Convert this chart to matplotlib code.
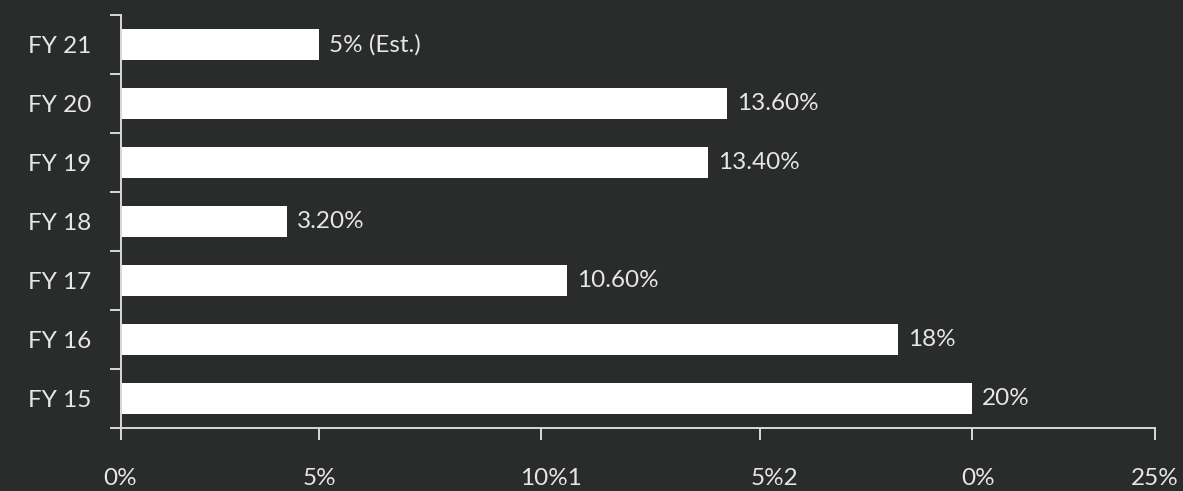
"""Horizontal bar chart: yearly growth, FY 15 to FY 21, dark theme."""

import matplotlib

matplotlib.use("Agg")
import matplotlib.pyplot as plt
import matplotlib.transforms as mtransforms
import numpy as np

BG = "#2a2b2b"
INK = "#e6e6e6"
AXIS = "#d9d9d9"

years = ["FY 15", "FY 16", "FY 17", "FY 18", "FY 19", "FY 20", "FY 21"]
# bar lengths as drawn in the picture (axis units, 0..25)
lengths = [20.58, 18.79, 10.80, 4.02, 14.20, 14.66, 4.80]
value_labels = ["20%", "18%", "10.60%", "3.20%", "13.40%", "13.60%", "5% (Est.)"]
# x ticks sit where the picture has them
xtick_pos = [0, 4.80, 10.16, 15.46, 20.58, 25]
xtick_labels = ["0%", "5%", "10%1", "5%2", "0%", "25%"]

FS = 17.5


def main() -> None:
    plt.rcParams["font.family"] = ["Lato", "DejaVu Sans"]
    fig = plt.figure(figsize=(11.83, 4.91), dpi=100, facecolor=BG)
    ax = fig.add_axes((0.1019, 0.1283, 0.8744, 0.8412), facecolor=BG)

    y = np.arange(len(years))
    ax.barh(y, lengths, height=0.51, color="white", edgecolor="none")
    for yi, v, lab in zip(y, lengths, value_labels):
        ax.annotate(lab, (v, yi), xytext=(7, 0), textcoords="offset points",
                    va="center", ha="left", color=INK, fontsize=FS)

    ax.set_xlim(0, 25)
    ax.set_ylim(-0.5, len(years) - 0.5)

    ax.set_yticks(y)
    ax.set_yticklabels(years)
    ax.set_yticks(np.arange(-0.5, len(years)), minor=True)
    ax.tick_params(axis="y", which="major", length=0, pad=21, labelsize=FS, labelcolor=INK)
    ax.tick_params(axis="y", which="minor", length=8, width=1.4, color=AXIS)

    ax.set_xticks(xtick_pos)
    ax.set_xticklabels(xtick_labels)
    ax.tick_params(axis="x", length=8.5, width=1.4, color=AXIS, pad=20,
                   labelsize=FS, labelcolor=INK)
    # the split labels sit a little right of their ticks in the original
    for lbl, dx in zip(ax.get_xticklabels(), [0, 0, 7, 10, 4, 0]):
        lbl.set_transform(lbl.get_transform()
                          + mtransforms.ScaledTranslation(dx / 72, 0, fig.dpi_scale_trans))

    for side in ("top", "right"):
        ax.spines[side].set_visible(False)
    for side in ("left", "bottom"):
        ax.spines[side].set_color(AXIS)
        ax.spines[side].set_linewidth(1.4)

    fig.savefig("out.png", dpi=100, facecolor=BG)


if __name__ == "__main__":
    main()
